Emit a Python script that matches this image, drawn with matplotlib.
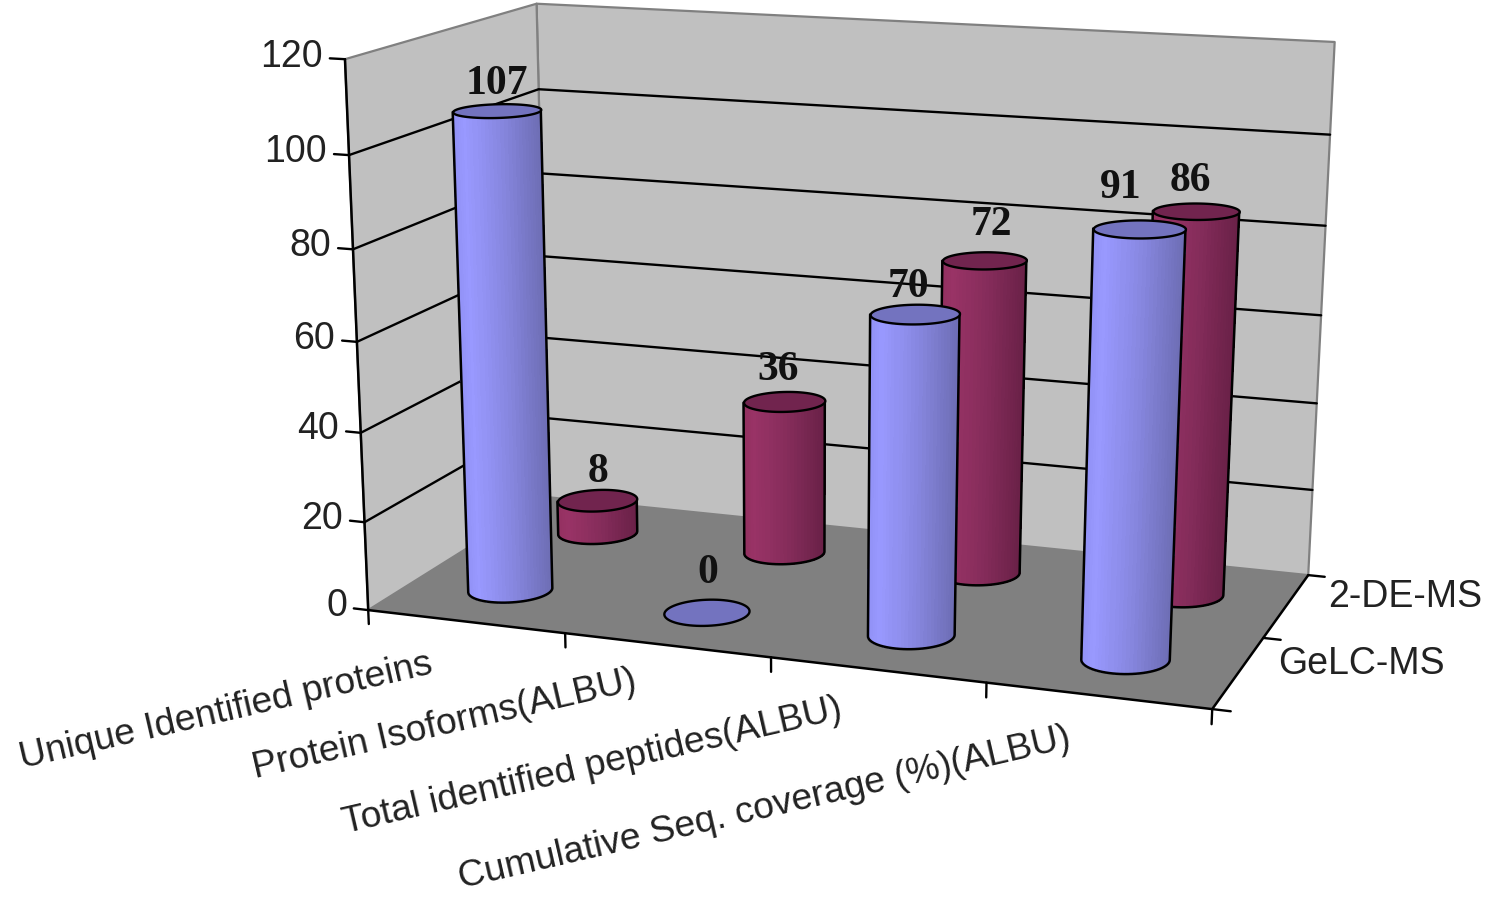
import matplotlib
matplotlib.use("Agg")
import matplotlib.pyplot as plt
import numpy as np
from matplotlib.colors import to_rgb
from mpl_toolkits.mplot3d.art3d import Line3DCollection, Poly3DCollection

plt.rcParams['font.family'] = ['Liberation Sans', 'DejaVu Sans']

W, H = 1492, 897

categories = ["Unique Identified proteins", "Protein Isoforms(ALBU)",
              "Total identified peptides(ALBU)", "Cumulative Seq. coverage (%)(ALBU)"]
series_names = ["GeLC-MS", "2-DE-MS"]
gelc_ms = [107, 0, 70, 91]
de_ms = [8, 36, 72, 86]
z_ticks = [0, 20, 40, 60, 80, 100, 120]

# where the value labels and axis labels sit in the picture (pixels)
gelc_label_xy = [(497, 84), (708, 573), (908, 287), (1121, 188)]
de_label_xy = [(598, 472), (778, 370), (991, 225), (1190, 181)]
cat_label_xy = [(226, 711), (444, 725), (592, 766), (765, 808)]
depth_label_xy = [(1278, 664), (1328, 597)]

# camera: fitted from chart frame points (cat, depth, value) -> picture pixels
frame_3d = np.array([
    [0, 0, 120], [0, 0, 60], [0, 0, 0], [0, 2, 120], [0, 2, 60], [0, 2, 0],
    [4, 2, 120], [4, 2, 60], [4, 2, 0], [4, 0, 0],
    [1, 0, 0], [2, 0, 0], [3, 0, 0], [4, 1, 0],
], dtype=float)
frame_px = np.array([
    [345, 58], [357, 342], [368, 607], [536, 4], [544, 257], [547, 498],
    [1333, 42], [1324, 316], [1308, 573], [1212, 707],
    [567, 633], [771, 660], [985, 687], [1263, 637],
], dtype=float)


def fit_camera(pts, px):
    rows = []
    s = np.array([1.0, 1.0, 1 / 30.0, 1.0])
    for (x, y, z), (u, v) in zip(pts, px):
        p = np.array([x, y, z, 1.0]) * s
        u, v = u / 1000, v / 1000
        rows.append(np.r_[p, np.zeros(4), -u * p])
        rows.append(np.r_[np.zeros(4), p, -v * p])
    P = np.linalg.svd(np.array(rows))[2][-1].reshape(3, 4) * s
    P[:2] *= 1000
    if P[2, 3] < 0:
        P = -P
    return np.array([P[0], P[1], [0, 1, 0, 0], P[2]])


M = fit_camera(frame_3d, frame_px)


def to_px(x, y, z):
    v = M @ np.array([x, y, z, np.ones_like(x)], dtype=float)
    return v[0] / v[3], v[1] / v[3]


def px_text(xy, s, **kw):
    fig.text(xy[0] / W, 1 - xy[1] / H, s, zorder=50, **kw)


fig = plt.figure(figsize=(W / 100, H / 100), dpi=100, facecolor='white')
ax = fig.add_axes([0, 0, 1, 1], projection='3d', computed_zorder=False)
ax.set_axis_off()
ax.patch.set_alpha(0)
ax.get_proj = lambda: M
ax.apply_aspect = lambda position=None: None
ax.viewLim.intervalx = (0, W)
ax.viewLim.intervaly = (H, 0)


def line3d(xs, ys, zs, lw=1.7, color='black', zorder=3):
    seg = np.column_stack([xs, ys, zs])
    ax.add_collection3d(Line3DCollection([seg], colors=color, linewidths=lw, zorder=zorder,
                                         capstyle='round', joinstyle='round'))


# walls and floor
left_wall = [(0, 0, 0), (0, 2, 0), (0, 2, 120), (0, 0, 120)]
back_wall = [(0, 2, 0), (4, 2, 0), (4, 2, 120), (0, 2, 120)]
floor = [(0, 0, 0), (4, 0, 0), (4, 2, 0), (0, 2, 0)]
ax.add_collection3d(Poly3DCollection([left_wall, back_wall], facecolors='#c0c0c0',
                                     edgecolors='#808080', linewidths=1.6, zorder=1))
ax.add_collection3d(Poly3DCollection([floor], facecolors='#808080',
                                     edgecolors='none', zorder=2))

# gridlines along the walls
for v in z_ticks[1:-1]:
    line3d([0, 0, 4], [0, 2, 2], [v, v, v], zorder=3)

# axis lines and tick marks
line3d([0, 0], [0, 0], [0, 120], lw=1.8, zorder=4)
line3d([0, 4, 4], [0, 0, 2], [0, 0, 0], lw=1.8, zorder=4)
for v in z_ticks:
    line3d([-0.075, 0], [0, 0], [v, v], zorder=4)
    px_text(to_px(-0.11, 0.0, v + 0.3), str(v), ha='right', va='center', fontsize=27, color='#222222')
for c in range(5):
    line3d([c, c], [0, 0], [0, -3.2], zorder=4)
for d in range(3):
    line3d([4, 4.08], [d, d], [0, 0], zorder=4)


BLUE = dict(side=['#9090f4', '#9999ff', '#8686de', '#6c6cb2'], top='#7373bf')
MAROON = dict(side=['#92305f', '#993366', '#842c5a', '#682046'], top='#71244e')
# round section in floor units, sheared so it looks level on screen
R_X, R_Y, SHEAR_X, SHEAR_Y = 0.182, 0.185, -0.06, 0.075
THETA = np.linspace(0, 2 * np.pi, 73)


def draw_cylinder(cx, cy, value, style, order):
    xs = cx + R_X * np.cos(THETA) + SHEAR_X * np.sin(THETA)
    ys = cy + R_Y * np.sin(THETA) + SHEAR_Y * np.cos(THETA)
    top = list(zip(xs, ys, np.full_like(xs, value)))
    if value > 0:
        # find the two silhouette points, keep the near half of the round side
        u, _ = to_px(xs, ys, np.full_like(xs, value / 2))
        i_l, i_r = np.argmin(u[:-1]), np.argmax(u[:-1])
        idx = np.arange(i_l, i_l + 73) % 72
        idx = idx[:np.nonzero(idx == i_r)[0][0] + 1]
        sx, sy = xs[idx], ys[idx]
        X = np.array([sx, sx])
        Y = np.array([sy, sy])
        Z = np.array([np.zeros_like(sx), np.full_like(sx, value)])
        t = (u[idx] - u[i_l]) / (u[i_r] - u[i_l])
        t = (t[:-1] + t[1:]) / 2
        stops = [to_rgb(c) for c in style['side']]
        cols = np.array([np.interp(t, [0, 0.14, 0.55, 1], [c[k] for c in stops]) for k in range(3)]).T
        ax.plot_surface(X, Y, Z, facecolors=cols[None, :, :], shade=False, rstride=1, cstride=1,
                        linewidth=0.6, antialiased=False, zorder=order)
        outline = np.r_[value, np.zeros_like(sx), value]
        line3d(np.r_[sx[0], sx, sx[-1]], np.r_[sy[0], sy, sy[-1]], outline, lw=1.8, zorder=order + 0.1)
    ax.add_collection3d(Poly3DCollection([top], facecolors=style['top'], edgecolors='black',
                                         linewidths=1.7, zorder=order + 0.2))


order = 10
for c, v in enumerate(de_ms):
    draw_cylinder(c + 0.5, 1.5, v, MAROON, order)
    order += 1
for c, v in enumerate(gelc_ms):
    draw_cylinder(c + 0.49, 0.5, v, BLUE, order)
    order += 1

for vals, spots in ((gelc_ms, gelc_label_xy), (de_ms, de_label_xy)):
    for v, xy in zip(vals, spots):
        px_text(xy, str(v), ha='center', va='center', fontsize=30, fontweight='bold',
                family=['Liberation Serif', 'DejaVu Serif'], color='#111111')
for name, xy in zip(categories, cat_label_xy):
    px_text(xy, name, ha='center', va='center', rotation=13, rotation_mode='anchor',
            fontsize=26.8, color='#222222')
for name, xy in zip(series_names, depth_label_xy):
    px_text(xy, name, ha='left', va='center', fontsize=27, color='#222222')

fig.savefig('out.png', dpi=100)
